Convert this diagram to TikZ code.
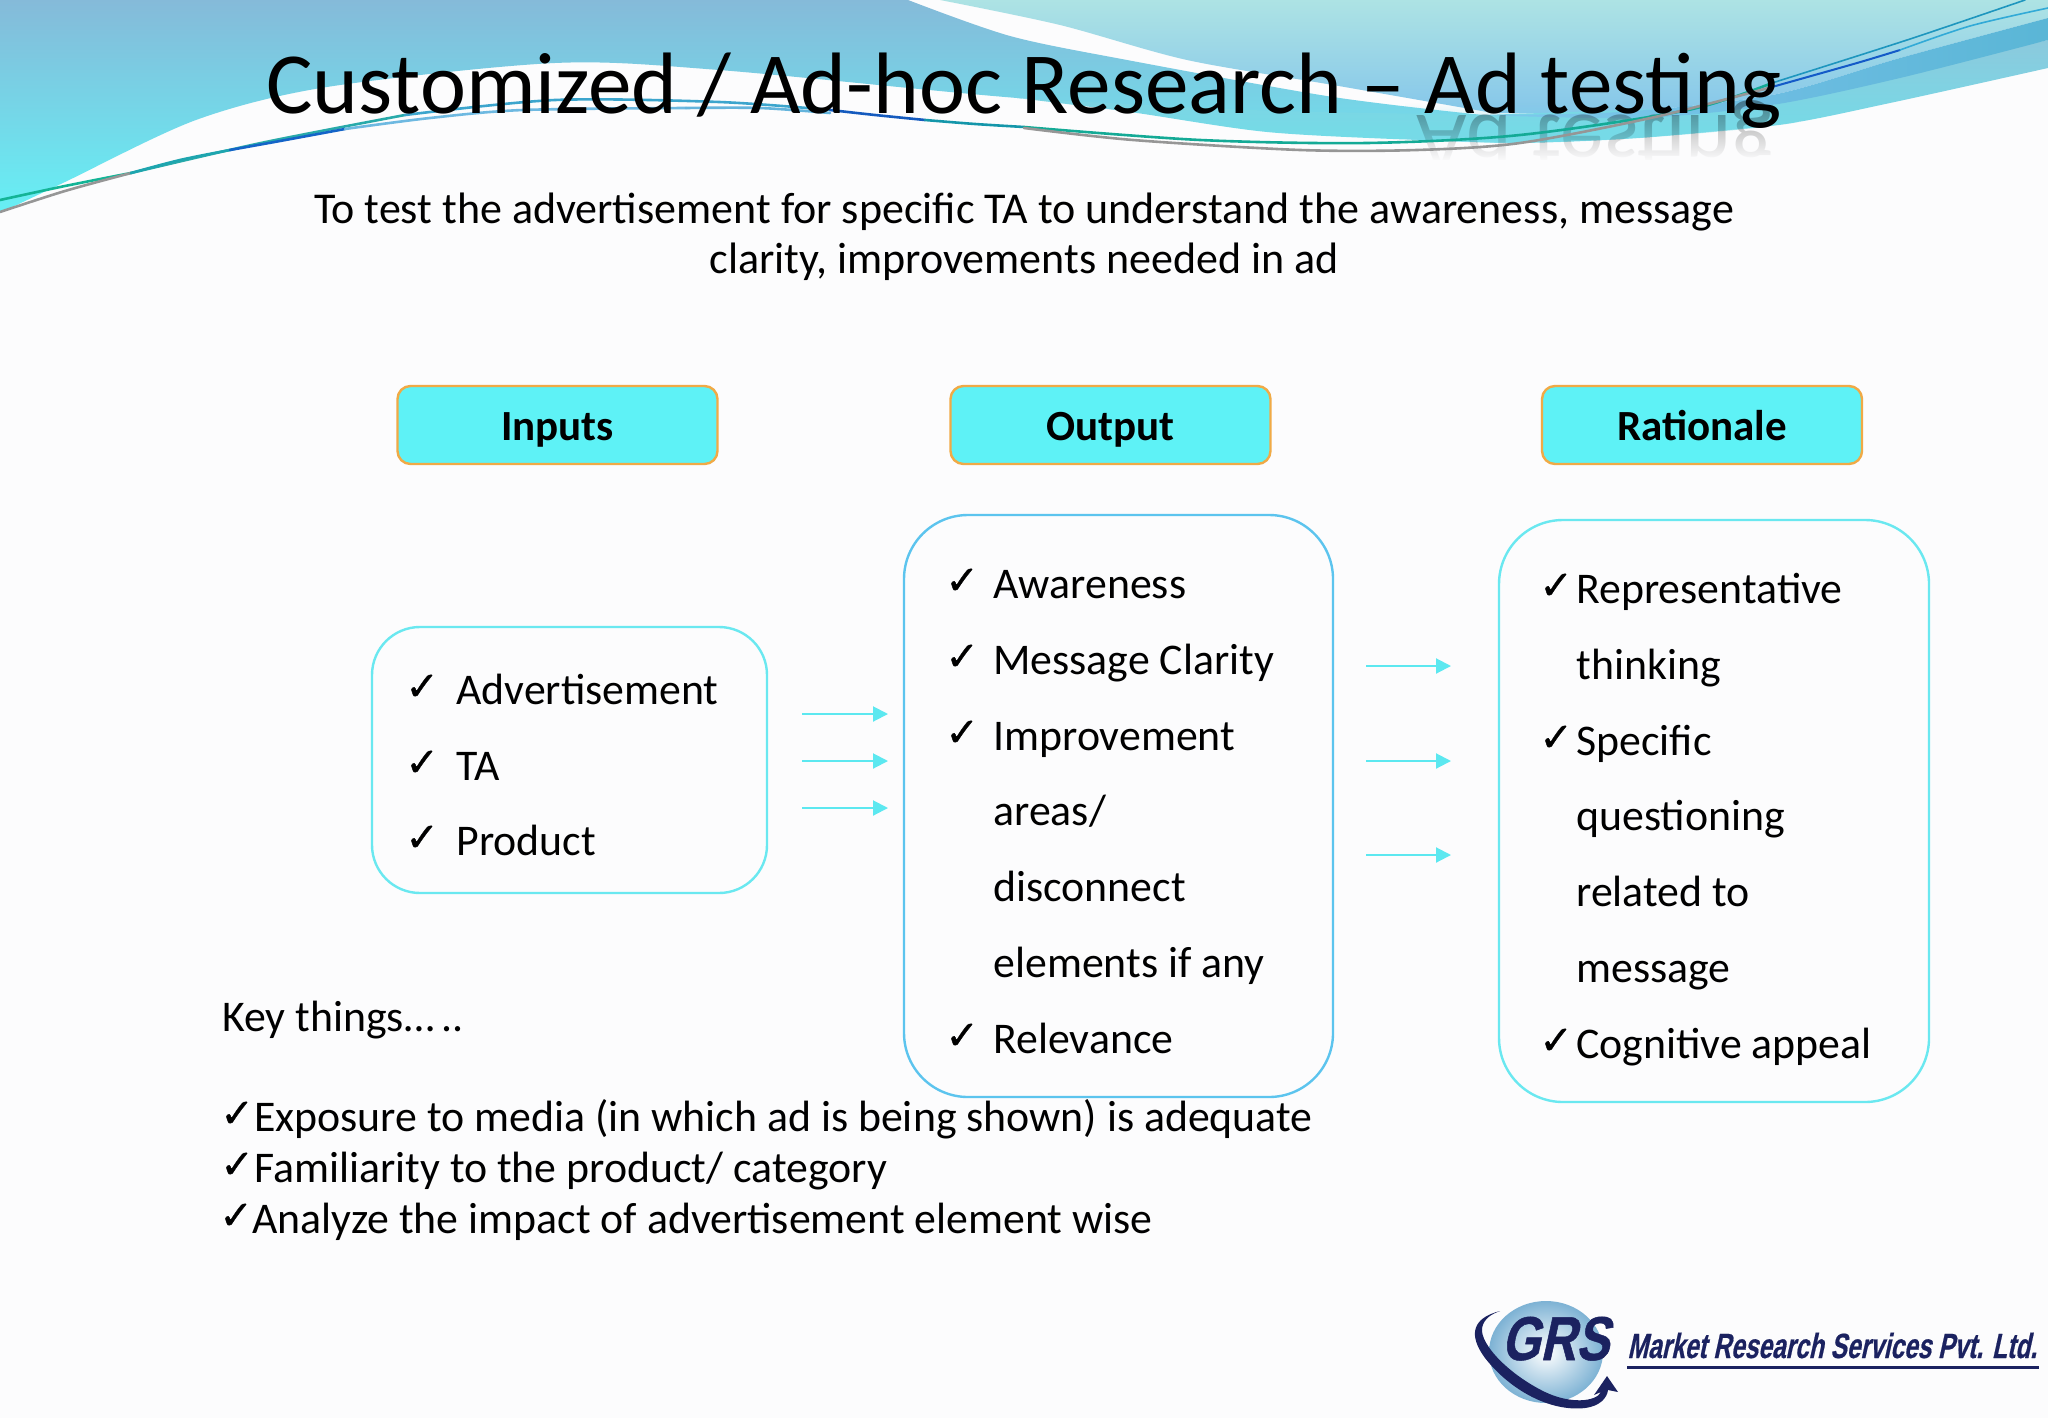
\documentclass[tikz,border=0pt]{standalone}
\usepackage{fontspec}
\usetikzlibrary{fadings,arrows.meta}
\setmainfont{Carlito}
\newfontfamily\chk[FakeBold=0.9]{DejaVu Sans}
\newfontfamily\logofont[FakeSlant=0.22,FakeStretch=0.70,FakeBold=0.5]{Liberation Sans Bold}
\newfontfamily\logobig[FakeSlant=0.22,FakeStretch=0.8,FakeBold=0.8]{Liberation Sans Bold}
\definecolor{pagebg}{HTML}{FCFCFD}
\definecolor{navy}{HTML}{1B2260}
\definecolor{sweepcyan}{RGB}{120,218,232}
\tikzset{
  hdr/.style={draw={rgb,255:red,240;green,170;blue,70},fill={rgb,255:red,94;green,242;blue,246},line width=1.2pt,rounded corners=6.5pt,minimum width=160pt,minimum height=39pt,font=\fontsize{21.5}{24}\selectfont\bfseries,text=black,inner sep=0pt,text height=17.5pt,text depth=2pt},
  listbox/.style={line width=1.2pt,inner sep=0pt},
  item/.style={anchor=base west,font=\fontsize{21.9}{25}\selectfont,text=black,inner sep=0pt},
  tick/.style={anchor=base west,font=\chk\fontsize{20}{22}\selectfont,text=black,inner sep=0pt},
  arr/.style={draw={rgb,255:red,92;green,232;blue,240},line width=1pt,-{Triangle[length=7.5pt,width=7.5pt]}},
  wire/.style={line width=1.3pt,line cap=round},
}
\begin{document}
\begin{tikzpicture}[x=0.5pt,y=-0.5pt]
\useasboundingbox (0,0) rectangle (2048,1418);
\fill[pagebg] (0,0) rectangle (2048,1418);
% background sweeps
\path[top color={rgb,255:red,173;green,227;blue,228},bottom color={rgb,255:red,133;green,198;blue,234}]
  (940,0) -- (2048,0) -- (2048,18) -- plot[smooth] coordinates {(2048,18) (1900,58) (1772,95) (1620,112) (1493,113)}
  -- plot[smooth] coordinates {(1493,113) (1333,85) (1187,60) (1060,25) (940,0)} -- cycle;
\path[top color={rgb,255:red,133;green,186;blue,217},middle color={rgb,255:red,130;green,197;blue,223},bottom color={rgb,255:red,102;green,240;blue,245}]
  (0,0) -- (908,0) -- plot[smooth] coordinates {(908,0) (1010,36) (1127,60) (1333,97) (1483,115)}
  -- plot[smooth] coordinates {(1483,115) (1250,112) (1017,98) (719,70) (555,63) (327,87) (196,120) (65,182) (0,213)} -- cycle;
\path[top color={rgb,255:red,140;green,201;blue,221},bottom color={rgb,255:red,114;green,221;blue,232}]
  plot[smooth] coordinates {(1017,98) (1250,110) (1483,115)} -- (1772,105) -- (2048,40) -- (2048,68)
  -- plot[smooth] coordinates {(2048,68) (1890,103) (1779,125) (1640,138) (1520,143) (1417,140) (1267,132) (1130,112) (1017,98)} -- cycle;
\path[left color={rgb,255:red,128;green,196;blue,238},right color={rgb,255:red,90;green,182;blue,214}]
  plot[smooth] coordinates {(1483,115) (1620,112) (1772,95) (1900,58) (2048,18)} -- (2048,40)
  -- plot[smooth] coordinates {(2048,40) (1900,78) (1772,105) (1640,118) (1483,115)} -- cycle;
% reflection of the heading, faded out towards the bottom
\node[anchor=base west,inner sep=0pt,text=black,text opacity=0.36,font=\fontsize{43.6}{50}\selectfont] (mirror) at (1416,115) {\scalebox{1}[-1]{Ad testing}};
\begin{scope}
\clip (1405,100) -- (1800,100) -- (1800,121) -- plot[smooth] coordinates {(1800,121) (1779,125) (1640,138) (1520,143) (1417,140) (1405,139)} -- cycle;
\fill[sweepcyan,path fading=north] (1405,103) rectangle (1800,161);
\end{scope}
\begin{scope}
\clip (1405,139) -- plot[smooth] coordinates {(1405,139) (1417,140) (1520,143) (1640,138) (1779,125) (1800,121)} -- (1800,190) -- (1405,190) -- cycle;
\fill[pagebg,path fading=north] (1405,103) rectangle (1800,161);
\fill[pagebg] (1405,160) rectangle (1800,190);
\end{scope}
% thin swoosh lines
\draw[wire,draw={rgb,255:red,20;green,180;blue,150}] plot[smooth] coordinates {(0,200) (65,186) (131,173)};
\draw[wire,draw={rgb,255:red,150;green,150;blue,150}] plot[smooth] coordinates {(0,212) (65,191) (131,173)};
\draw[wire,draw={rgb,255:red,40;green,170;blue,170}] plot[smooth] coordinates {(131,173) (261,143) (405,115)};
\draw[wire,draw={rgb,255:red,30;green,165;blue,175}] plot[smooth] coordinates {(131,173) (180,160) (230,150)};
\draw[wire,draw={rgb,255:red,20;green,100;blue,200}] plot[smooth] coordinates {(230,150) (280,141) (345,129)};
\draw[wire,draw={rgb,255:red,110;green,185;blue,225}] plot[smooth] coordinates {(345,129) (430,118) (523,110) (686,108)};
\draw[wire,draw={rgb,255:red,60;green,165;blue,205}] plot[smooth] coordinates {(405,115) (555,100) (719,102) (830,110)};
\draw[wire,draw={rgb,255:red,100;green,180;blue,220}] plot[smooth] coordinates {(686,108) (760,108) (830,113)};
\draw[wire,draw={rgb,255:red,20;green,90;blue,190}] plot[smooth] coordinates {(830,110) (875,115) (925,120)};
\draw[wire,draw={rgb,255:red,20;green,150;blue,170}] plot[smooth] coordinates {(925,120) (975,124) (1024,127)};
\draw[wire,draw={rgb,255:red,20;green,170;blue,150}] plot[smooth] coordinates {(1024,127) (1200,140) (1367,143) (1520,135) (1688,110) (1772,83)};
\draw[wire,draw={rgb,255:red,150;green,150;blue,150}] plot[smooth] coordinates {(1024,128) (1133,140) (1300,150) (1417,150) (1520,143) (1655,117) (1772,87)};
\draw[wire,line width=0.8pt,draw={rgb,255:red,30;green,150;blue,190}] plot[smooth] coordinates {(1772,83) (1907,40) (2025,0)};
\draw[wire,line width=1pt,draw={rgb,255:red,20;green,90;blue,200}] plot[smooth] coordinates {(1772,87) (1857,63) (1900,50)};
\draw[wire,line width=0.8pt,draw={rgb,255:red,50;green,170;blue,215}] plot[smooth] coordinates {(1900,50) (1970,26) (2048,8)};
% heading and intro
\node[anchor=base west,inner sep=0pt,font=\fontsize{43.6}{50}\selectfont] (title) at (266,113) {Customized / Ad-hoc Research – Ad testing};
\node[anchor=base,inner sep=0pt,font=\fontsize{22}{25}\selectfont] (introA) at (1024,223) {To test the advertisement for specific TA to understand the awareness, message};
\node[anchor=base,inner sep=0pt,font=\fontsize{22}{25}\selectfont] (introB) at (1024,273) {clarity, improvements needed in ad};
% headers
\node[hdr] (hInputs) at (557.5,425) {Inputs};
\node[hdr] (hOutput) at (1110.5,425) {Output};
\node[hdr] (hRationale) at (1702,425) {Rationale};
% list boxes
\node[listbox,rounded corners=24pt,draw={rgb,255:red,106;green,232;blue,240},minimum width=197.5pt,minimum height=133pt] (bInputs) at (569.5,760) {};
\node[listbox,rounded corners=32pt,draw={rgb,255:red,92;green,196;blue,238},minimum width=214.5pt,minimum height=291pt] (bOutput) at (1118.5,806) {};
\node[listbox,rounded corners=32pt,draw={rgb,255:red,106;green,232;blue,240},minimum width=215pt,minimum height=291pt] (bRationale) at (1714,811) {};
% inputs list
\node[tick] (t1) at (405,700) {✓}; \node[item] (i1) at (456,704) {Advertisement};
\node[tick] (t2) at (405,776) {✓}; \node[item] (i2) at (456,780) {TA};
\node[tick] (t3) at (405,851) {✓}; \node[item] (i3) at (456,855) {Product};
% output list
\node[tick] (o1t) at (945,594) {✓}; \node[item] (o1) at (993,598) {Awareness};
\node[tick] (o2t) at (945,670) {✓}; \node[item] (o2) at (993,674) {Message Clarity};
\node[tick] (o3t) at (945,746) {✓}; \node[item] (o3) at (993,750) {Improvement};
\node[item] (o4) at (993,825) {areas/};
\node[item] (o5) at (993,901) {disconnect};
\node[item] (o6) at (993,977) {elements if any};
\node[tick] (o7t) at (945,1049) {✓}; \node[item] (o7) at (993,1053) {Relevance};
% rationale list
\node[tick] (r1t) at (1539,599) {✓}; \node[item] (r1) at (1576,603) {Representative};
\node[item] (r2) at (1576,679) {thinking};
\node[tick] (r3t) at (1539,751) {✓}; \node[item] (r3) at (1576,755) {Specific};
\node[item] (r4) at (1576,830) {questioning};
\node[item] (r5) at (1576,906) {related to};
\node[item] (r6) at (1576,982) {message};
\node[tick] (r7t) at (1539,1054) {✓}; \node[item] (r7) at (1576,1058) {Cognitive appeal};
% arrows
\coordinate (a1s) at (802,714); \coordinate (a1e) at (888,714);
\coordinate (a2s) at (802,761); \coordinate (a2e) at (888,761);
\coordinate (a3s) at (802,808); \coordinate (a3e) at (888,808);
\coordinate (b1s) at (1366,666); \coordinate (b1e) at (1451,666);
\coordinate (b2s) at (1366,761); \coordinate (b2e) at (1451,761);
\coordinate (b3s) at (1366,855); \coordinate (b3e) at (1451,855);
\draw[arr] (a1s) -- (a1e); \draw[arr] (a2s) -- (a2e); \draw[arr] (a3s) -- (a3e);
\draw[arr] (b1s) -- (b1e); \draw[arr] (b2s) -- (b2e); \draw[arr] (b3s) -- (b3e);
% key things
\node[item] (k0) at (222,1031) {Key things…\hspace{3.5pt}..};
\node[tick] (k1t) at (220,1127) {✓}; \node[item] (k1) at (254,1131) {Exposure to media (in which ad is being shown) is adequate};
\node[tick] (k2t) at (220,1178) {✓}; \node[item] (k2) at (254,1182) {Familiarity to the product/ category};
\node[tick] (k3t) at (219,1229) {✓}; \node[item] (k3) at (252,1233) {Analyze the impact of advertisement element wise};
% logo
\path[inner color=white,outer color={rgb,255:red,125;green,178;blue,212}] (1546,1352) ellipse (57 and 51);
\fill[navy] (1500,1311) .. controls (1472,1318) and (1468,1335) .. (1485,1358) .. controls (1510,1390) and (1550,1412) .. (1585,1408) .. controls (1600,1406) and (1607,1398) .. (1608,1390)
  -- (1618,1392) -- (1607,1376) -- (1594,1395) -- (1601,1392) .. controls (1596,1402) and (1570,1404) .. (1545,1392) .. controls (1510,1375) and (1480,1345) .. (1482,1328) .. controls (1484,1318) and (1492,1314) .. (1500,1311) -- cycle;
\node[anchor=base west,inner sep=0pt,text=navy,font=\logobig\fontsize{31}{34}\selectfont] (grs) at (1501,1360) {GRS};
\node[anchor=base west,inner sep=0pt,text=navy,font=\logofont\fontsize{17.5}{20}\selectfont] (grsname) at (1627,1358) {Market Research Services Pvt. Ltd.};
\fill[navy] (1627,1366) rectangle (2039,1368.5);
\end{tikzpicture}
\end{document}
